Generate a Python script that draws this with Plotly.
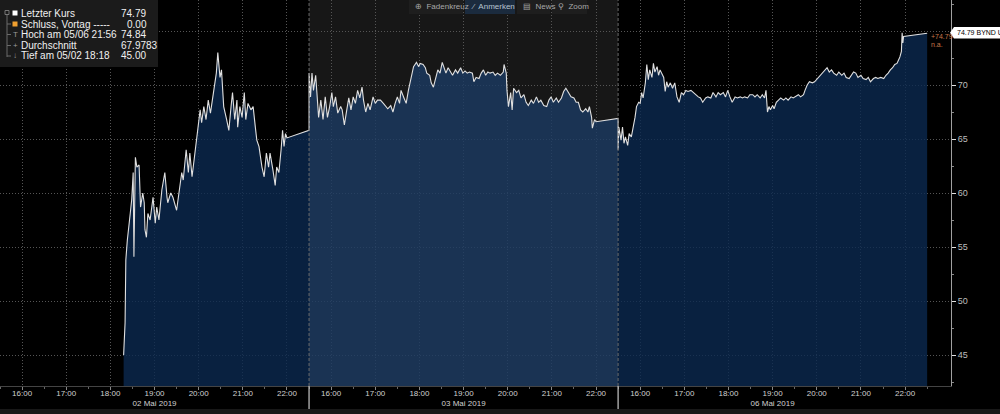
import plotly.graph_objects as go

# ---------------- data ----------------
session_dates = ["02 Mai 2019", "03 Mai 2019", "06 Mai 2019"]
hour_labels = ["16:00", "17:00", "18:00", "19:00", "20:00", "21:00", "22:00"]
price_ticks = [45, 50, 55, 60, 65, 70, 75]
price_tick_text = ["45", "50", "55", "60", "65", "70", ""]

day1_times = [
    "18:18", "18:20", "18:21", "18:23", "18:27", "18:29", "18:31", "18:32", "18:34", "18:36",
    "18:39", "18:41", "18:44", "18:46", "18:47", "18:49", "18:51", "18:54", "18:58", "19:01",
    "19:03", "19:06", "19:10", "19:14", "19:17", "19:18", "19:22", "19:25", "19:30", "19:32",
    "19:37", "19:39", "19:43", "19:46", "19:48", "19:51", "19:55", "19:57", "19:59", "20:02",
    "20:04", "20:07", "20:10", "20:13", "20:16", "20:20", "20:24", "20:26", "20:29", "20:31",
    "20:34", "20:38", "20:41", "20:44", "20:46", "20:49", "20:52", "20:53", "20:56", "20:59",
    "21:02", "21:04", "21:07", "21:11", "21:14", "21:17", "21:19", "21:22", "21:26", "21:29",
    "21:32", "21:35", "21:37", "21:41", "21:44", "21:46", "21:49", "21:52", "21:54", "21:56",
    "21:58", "22:00", "22:30",
]
day1_prices = [
    45.0, 48.0, 53.8, 55.6, 58.1, 59.4, 61.9, 54.1, 63.3, 62.4,
    62.6, 58.7, 60.0, 59.1, 56.6, 55.9, 58.1, 57.5, 59.6, 57.2,
    58.7, 57.5, 60.3, 61.9, 59.6, 59.1, 60.0, 59.6, 58.4, 59.4,
    61.9, 61.2, 64.0, 61.9, 63.7, 61.5, 63.7, 64.9, 65.8, 67.7,
    66.5, 68.0, 66.8, 68.6, 67.4, 69.5, 71.1, 73.0, 70.7, 71.4,
    68.0, 66.8, 65.8, 68.0, 69.3, 66.8, 68.6, 66.1, 68.0, 67.0,
    69.3, 66.8, 68.3, 67.7, 68.0, 66.1, 64.9, 64.3, 62.4, 61.5,
    63.7, 62.4, 63.7, 62.1, 60.7, 62.4, 61.9, 64.0, 65.8, 64.3,
    65.5, 65.1, 65.8,
]

day2_times = [
    "15:30", "15:32", "15:34", "15:36", "15:39", "15:41", "15:43", "15:46", "15:49", "15:52",
    "15:55", "15:58", "16:01", "16:03", "16:06", "16:09", "16:13", "16:15", "16:18", "16:22",
    "16:24", "16:27", "16:30", "16:33", "16:36", "16:39", "16:42", "16:44", "16:47", "16:50",
    "16:53", "16:57", "17:00", "17:03", "17:07", "17:11", "17:14", "17:17", "17:21", "17:24",
    "17:27", "17:30", "17:33", "17:35", "17:39", "17:42", "17:45", "17:48", "17:50", "17:52",
    "17:56", "17:59", "18:01", "18:05", "18:08", "18:10", "18:14", "18:16", "18:19", "18:22",
    "18:25", "18:28", "18:31", "18:33", "18:36", "18:39", "18:42", "18:45", "18:49", "18:52",
    "18:56", "18:59", "19:02", "19:05", "19:08", "19:12", "19:14", "19:17", "19:21", "19:24",
    "19:27", "19:30", "19:33", "19:36", "19:40", "19:43", "19:46", "19:50", "19:54", "19:55",
    "19:58", "19:59", "20:01", "20:04", "20:06", "20:08", "20:12", "20:15", "20:18", "20:22",
    "20:25", "20:28", "20:32", "20:35", "20:39", "20:42", "20:45", "20:49", "20:53", "20:56",
    "20:59", "21:02", "21:06", "21:09", "21:13", "21:16", "21:19", "21:23", "21:26", "21:30",
    "21:33", "21:36", "21:39", "21:42", "21:46", "21:49", "21:51", "21:54", "21:55", "21:58",
    "22:00", "22:30",
]
day2_prices = [
    71.1, 68.9, 71.1, 69.5, 70.9, 68.8, 67.0, 68.6, 66.8, 68.9,
    67.0, 68.0, 69.3, 68.0, 68.9, 67.4, 68.0, 67.7, 66.3, 68.0,
    68.8, 67.7, 68.9, 68.3, 69.5, 68.8, 69.8, 68.6, 67.5, 68.3,
    67.7, 68.9, 68.3, 68.6, 68.6, 68.3, 68.0, 67.8, 68.1, 67.5,
    68.3, 68.9, 68.3, 69.5, 68.8, 68.3, 69.5, 70.5, 71.1, 71.7,
    72.1, 71.7, 72.0, 71.9, 71.6, 71.1, 70.9, 70.2, 69.8, 70.5,
    71.4, 71.1, 72.1, 71.7, 71.1, 71.6, 71.2, 70.9, 71.4, 71.1,
    71.6, 71.1, 71.3, 71.1, 71.2, 71.1, 70.3, 70.7, 70.6, 71.1,
    71.4, 70.9, 71.2, 71.1, 71.2, 70.9, 71.1, 70.9, 71.2, 71.9,
    71.1, 69.5, 68.0, 69.3, 67.7, 69.7, 69.3, 69.5, 68.8, 69.1,
    68.4, 68.1, 68.6, 68.3, 68.9, 68.4, 68.6, 68.1, 68.0, 68.6,
    68.9, 68.4, 68.8, 68.4, 68.8, 69.4, 69.7, 69.3, 68.9, 68.8,
    68.4, 68.4, 67.7, 67.5, 67.8, 67.5, 68.0, 67.0, 66.0, 66.8,
    66.6, 66.9,
]

day3_times = [
    "15:30", "15:31", "15:34", "15:36", "15:38", "15:40", "15:43", "15:45", "15:48", "15:51",
    "15:53", "15:55", "15:58", "16:00", "16:02", "16:04", "16:07", "16:09", "16:11", "16:13",
    "16:16", "16:18", "16:20", "16:23", "16:25", "16:27", "16:29", "16:32", "16:34", "16:36",
    "16:38", "16:41", "16:44", "16:47", "16:50", "16:53", "16:56", "16:59", "17:02", "17:05",
    "17:09", "17:12", "17:16", "17:19", "17:22", "17:25", "17:29", "17:32", "17:36", "17:39",
    "17:43", "17:46", "17:49", "17:53", "17:56", "17:59", "18:02", "18:05", "18:09", "18:12",
    "18:16", "18:19", "18:22", "18:26", "18:29", "18:33", "18:36", "18:39", "18:43", "18:46",
    "18:49", "18:51", "18:53", "18:55", "18:57", "19:00", "19:02", "19:05", "19:08", "19:11",
    "19:15", "19:18", "19:21", "19:25", "19:28", "19:31", "19:35", "19:38", "19:42", "19:44",
    "19:47", "19:50", "19:54", "19:57", "20:01", "20:04", "20:08", "20:11", "20:14", "20:17",
    "20:20", "20:23", "20:27", "20:30", "20:34", "20:37", "20:40", "20:44", "20:47", "20:50",
    "20:53", "20:56", "21:00", "21:03", "21:07", "21:10", "21:13", "21:17", "21:20", "21:23",
    "21:27", "21:31", "21:34", "21:37", "21:40", "21:43", "21:46", "21:49", "21:51", "21:53",
    "21:55", "21:56", "21:57", "21:58", "22:30",
]
day3_prices = [
    64.0, 66.1, 64.9, 66.1, 64.6, 65.2, 64.4, 65.5, 65.2, 66.1,
    67.0, 68.0, 68.4, 68.3, 69.3, 68.8, 70.2, 71.9, 70.5, 71.4,
    70.7, 72.0, 71.2, 71.7, 70.9, 71.4, 71.1, 70.7, 69.4, 70.3,
    69.8, 70.2, 69.7, 70.2, 68.9, 68.4, 69.3, 69.1, 69.5, 69.4,
    69.5, 69.3, 69.1, 68.9, 68.8, 68.4, 68.8, 68.9, 68.8, 69.3,
    68.9, 69.3, 69.1, 69.3, 68.9, 69.5, 68.9, 68.4, 68.9, 68.8,
    68.9, 68.8, 68.9, 68.8, 69.1, 69.1, 68.9, 69.1, 68.8, 69.1,
    68.8, 69.5, 67.5, 68.0, 67.7, 68.1, 67.8, 68.4, 68.6, 68.8,
    68.6, 68.8, 68.6, 68.9, 68.8, 68.9, 69.1, 68.9, 69.1, 69.5,
    70.0, 70.3, 70.2, 70.3, 70.6, 70.9, 71.2, 71.4, 71.6, 71.2,
    71.4, 71.1, 70.9, 71.2, 70.9, 71.1, 70.7, 70.6, 70.9, 71.2,
    71.1, 70.7, 70.9, 70.6, 70.5, 70.7, 70.3, 70.6, 70.7, 70.6,
    70.7, 70.6, 70.9, 71.1, 71.4, 71.6, 71.9, 72.0, 72.3, 72.6,
    73.1, 74.84, 73.9, 74.5, 74.79,
]

legend_labels = ["Letzter Kurs", "Schluss, Vortag -----", "Hoch am 05/06 21:56",
                 "Durchschnitt", "Tief am 05/02 18:18"]
legend_values = ["74.79", "0.00", "74.84", "67.9783", "45.00"]
toolbar_labels = ["Fadenkreuz", "Anmerken", "News", "Zoom"]
last_label = "74.79 BYND US"
change_label = "+74.79"

days = [(day1_times, day1_prices), (day2_times, day2_prices), (day3_times, day3_prices)]
for t, p in days:
    assert len(t) == len(p)

# ---------------- geometry / style ----------------
W, H = 1000, 414
ML, MR, MT, MB = 0, 49, 0, 28
PW, PH = W - ML - MR, H - MT - MB
SESSION_OPEN = 15.5
SESSION_LEN = 7.0
HOUR_PX = 44.15
Y_RANGE = [42.13, 77.87]
FONT = "Liberation Sans, Arial, sans-serif"

FILL_OUTER = "rgba(11,41,80,0.8)"
FILL_MID = "rgba(27,59,99,0.8)"
MID_BG = "#171717"
GRID = "#555555"


def to_x(day, t):
    h, m = t.split(":")
    return day * SESSION_LEN + int(h) + int(m) / 60.0 - SESSION_OPEN


def px(x):
    return x / PW


def py(y):
    return 1 - y / PH


fig = go.Figure()

all_x, all_y = [], []
for d, (times, prices) in enumerate(days):
    xs = [to_x(d, t) for t in times]
    all_x += xs
    all_y += prices
    fig.add_trace(go.Scatter(
        x=xs, y=prices, mode="lines", line=dict(width=0),
        fill="tozeroy", fillcolor=FILL_MID if d == 1 else FILL_OUTER,
        hoverinfo="skip", showlegend=False))

fig.add_trace(go.Scatter(
    x=all_x, y=all_y, mode="lines", line=dict(color="#e0e0e0", width=1.1),
    hoverinfo="skip", showlegend=False))

# ticks
tickvals, ticktext = [], []
for d in range(3):
    for lab in hour_labels:
        tickvals.append(to_x(d, lab))
        ticktext.append(lab + ("<br>" + session_dates[d] if lab == "19:00" else ""))
minor_x = [d * SESSION_LEN + k * 0.5 for d in range(3) for k in range(15)]

shapes = []
# middle session background
shapes.append(dict(type="rect", xref="x", yref="paper", x0=SESSION_LEN, x1=2 * SESSION_LEN,
                   y0=0, y1=1, fillcolor=MID_BG, line=dict(width=0), layer="below"))
# session separators
for d in (1, 2):
    shapes.append(dict(type="line", xref="x", yref="paper", x0=d * SESSION_LEN, x1=d * SESSION_LEN,
                       y0=0, y1=1, line=dict(color="#6a6a6a", width=1, dash="3px,2px"), layer="above"))
    shapes.append(dict(type="line", xref="x", yref="paper", x0=d * SESSION_LEN, x1=d * SESSION_LEN,
                       y0=0, y1=py(410), line=dict(color="#c8c8c8", width=1.2), layer="above"))
# bottom strip
shapes.append(dict(type="rect", xref="paper", yref="paper", x0=px(0), x1=px(W), y0=py(409), y1=py(414),
                   fillcolor="#181818", line=dict(width=0)))
# legend box
shapes.append(dict(type="rect", xref="paper", yref="paper", x0=px(0), x1=px(158), y0=py(0), y1=py(67),
                   fillcolor="#1b1b1b", line=dict(width=0), layer="above"))
row_y = [13, 24, 34.5, 45.5, 56]
shapes.append(dict(type="line", xref="paper", yref="paper", x0=px(7), x1=px(7), y0=py(14), y1=py(57),
                   line=dict(color="#6a6a6a", width=1), layer="above"))
shapes.append(dict(type="rect", xref="paper", yref="paper", x0=px(5), x1=px(9), y0=py(10.5), y1=py(14.5),
                   fillcolor="#1b1b1b", line=dict(color="#777", width=1), layer="above"))
for r in row_y[1:]:
    shapes.append(dict(type="line", xref="paper", yref="paper", x0=px(7), x1=px(11), y0=py(r), y1=py(r),
                       line=dict(color="#6a6a6a", width=1), layer="above"))
shapes.append(dict(type="rect", xref="paper", yref="paper", x0=px(12.5), x1=px(17.5), y0=py(10.5), y1=py(15.5),
                   fillcolor="#ffffff", line=dict(width=0), layer="above"))
shapes.append(dict(type="rect", xref="paper", yref="paper", x0=px(12.5), x1=px(17.5), y0=py(21.5), y1=py(26.5),
                   fillcolor="#f0a030", line=dict(width=0), layer="above"))
# toolbar
buttons = [(409, 463, "#1e1e1e"), (465, 515, "#1b2b3e"), (517, 550, "#1e1e1e"), (552, 587, "#1e1e1e")]
for x0, x1, c in buttons:
    shapes.append(dict(type="rect", xref="paper", yref="paper", x0=px(x0), x1=px(x1), y0=py(0), y1=py(14),
                       fillcolor=c, line=dict(width=0), layer="above"))
# last price tag
shapes.append(dict(type="path", xref="paper", yref="paper",
                   path=f"M {px(950)},{py(32.7)} L {px(954)},{py(27)} L {px(1004)},{py(27)} "
                        f"L {px(1004)},{py(38.5)} L {px(954)},{py(38.5)} Z",
                   fillcolor="#ffffff", line=dict(width=0), layer="above"))

annotations = []
for i, (lab, val) in enumerate(zip(legend_labels, legend_values)):
    annotations.append(dict(xref="paper", yref="paper", x=px(19), y=py(row_y[i]), text=lab,
                            showarrow=False, xanchor="left", yanchor="middle",
                            font=dict(family=FONT, size=10, color="#f0f0f0")))
    annotations.append(dict(xref="paper", yref="paper", x=px(125 if val == "0.00" else 119), y=py(row_y[i]),
                            text=val, showarrow=False, xanchor="left", yanchor="middle",
                            font=dict(family=FONT, size=10, color="#f0f0f0")))
for sym, r in (("T", row_y[2]), ("+", row_y[3]), ("↓", row_y[4])):
    annotations.append(dict(xref="paper", yref="paper", x=px(15), y=py(r), text=sym, showarrow=False,
                            xanchor="center", yanchor="middle", font=dict(family=FONT, size=8, color="#999")))
icons = ["⊕", "⁄", "▤", "⚲"]
for (x0, x1, c), lab, ic in zip(buttons, toolbar_labels, icons):
    annotations.append(dict(xref="paper", yref="paper", x=px(x0 + 4), y=py(7),
                            text=ic + "  " + lab, showarrow=False, xanchor="left", yanchor="middle",
                            font=dict(family=FONT, size=8, color="#a8a8a8" if c == "#1e1e1e" else "#b8c4d0")))
annotations.append(dict(xref="paper", yref="paper", x=px(955), y=py(33), text=last_label, showarrow=False,
                        xanchor="left", yanchor="middle", font=dict(family=FONT, size=7, color="#000")))
annotations.append(dict(xref="paper", yref="paper", x=px(929), y=py(36), text=change_label, showarrow=False,
                        xanchor="left", yanchor="middle", font=dict(family=FONT, size=7, color="#c8784a")))
annotations.append(dict(xref="paper", yref="paper", x=px(929), y=py(45), text="n.a.", showarrow=False,
                        xanchor="left", yanchor="middle", font=dict(family=FONT, size=7, color="#c8784a")))

fig.update_layout(
    width=W, height=H, margin=dict(l=ML, r=MR, t=MT, b=MB),
    paper_bgcolor="#000000", plot_bgcolor="#000000",
    showlegend=False, hovermode=False,
    shapes=shapes, annotations=annotations,
    xaxis=dict(range=[0, PW / HOUR_PX], tickmode="array", tickvals=tickvals, ticktext=ticktext,
               showgrid=True, gridcolor=GRID, griddash="1px,2px", gridwidth=1,
               zeroline=False, showline=True, linecolor="#444", linewidth=1,
               ticks="outside", ticklen=3, tickcolor="#888", ticklabelstandoff=-4,
               minor=dict(tickmode="array", tickvals=minor_x, ticks="outside", ticklen=2,
                          tickcolor="#666", showgrid=False),
               tickfont=dict(family=FONT, size=8, color="#d0d0d0")),
    yaxis=dict(range=Y_RANGE, side="right", tickmode="array", tickvals=price_ticks,
               ticktext=price_tick_text,
               showgrid=True, gridcolor=GRID, griddash="1px,2px", gridwidth=1,
               zeroline=False, showline=True, linecolor="#a0a0a0", linewidth=1,
               ticks="outside", ticklen=4, tickcolor="#e0e0e0",
               minor=dict(dtick=2.5, ticks="outside", ticklen=2, tickcolor="#888", showgrid=False),
               tickfont=dict(family=FONT, size=9, color="#bdbdbd")),
)

fig.write_html("out.html", config={"displayModeBar": False, "staticPlot": True},
               post_script="document.body.style.margin='0';document.body.style.background='#000';")
